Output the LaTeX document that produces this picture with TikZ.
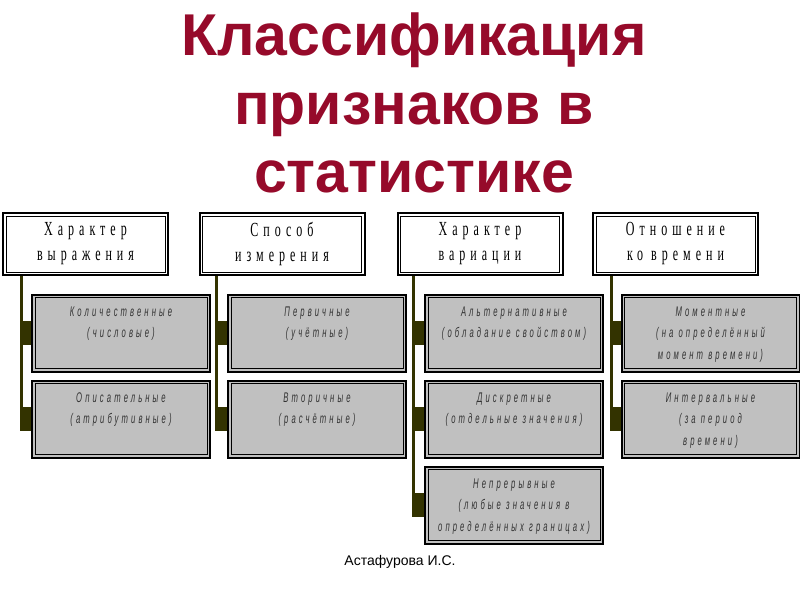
\documentclass[tikz,border=0pt]{standalone}
\usepackage{fontspec}
\setmainfont{Liberation Serif}
\newfontfamily\titlefont{Liberation Sans}
\newfontfamily\headfont[FakeStretch=0.6,LetterSpace=25]{Liberation Serif}
\newfontfamily\leaffont[FakeStretch=0.55,LetterSpace=22]{Liberation Sans}
\usetikzlibrary{positioning}
\definecolor{TitleRed}{RGB}{150,10,42}
\definecolor{LineOlive}{RGB}{51,51,0}
\definecolor{LeafGray}{RGB}{192,192,192}
\newcommand\leaftext[1]{\parbox[c][71pt][t]{172pt}{\centering\vspace*{9pt}#1}}

\begin{document}
\begin{tikzpicture}[x=1pt,y=-1pt,
  dbl/.style={path picture={\draw[line width=.8pt] ([shift={(3pt,3pt)}]path picture bounding box.south west) rectangle ([shift={(-3pt,-3pt)}]path picture bounding box.north east);}},
  hd/.style={draw,line width=2pt,fill=white,dbl,minimum width=165pt,minimum height=62pt,align=center,font=\headfont\fontsize{20}{25}\selectfont},
  leaf/.style={draw,line width=2pt,fill=LeafGray,dbl,inner sep=3pt,text=black!80,font=\leaffont\itshape\fontsize{14}{21.5}\selectfont},
  trunk/.style={draw=LineOlive,line width=3pt},
  stub/.style={draw=LineOlive,line width=24pt}]
\useasboundingbox (0,0) rectangle (800,600);
% title
\node[align=center,inner sep=0,text=TitleRed,font=\titlefont\bfseries\fontsize{59}{68.5}\selectfont,anchor=north] (ttl) at (414,13) {Классификация\\признаков в\\статистике};
% headers
\node[hd] (h1) at (85.5,244) {Характер\\выражения};
\node[hd] (h2) at (282,244) {Способ\\измерения};
\node[hd] (h3) at (480,244) {Характер\\вариации};
\node[hd] (h4) at (675.5,244) {Отношение\\ко времени};
% leaves
\node[leaf] (c11) at (121,333) {\leaftext{Количественные\\(числовые)}};
\node[leaf,below=7pt of c11] (c12) {\leaftext{Описательные\\(атрибутивные)}};
\node[leaf] (c21) at (317,333) {\leaftext{Первичные\\(учётные)}};
\node[leaf,below=7pt of c21] (c22) {\leaftext{Вторичные\\(расчётные)}};
\node[leaf] (c31) at (514,333) {\leaftext{Альтернативные\\(обладание свойством)}};
\node[leaf,below=7pt of c31] (c32) {\leaftext{Дискретные\\(отдельные значения)}};
\node[leaf,below=7pt of c32] (c33) {\leaftext{Непрерывные\\(любые значения в\\определённых границах)}};
\node[leaf] (c41) at (710.5,333) {\leaftext{Моментные\\(на определённый\\момент времени)}};
\node[leaf,below=7pt of c41] (c42) {\leaftext{Интервальные\\(за период\\времени)}};
% connectors
\coordinate (t1) at ([xshift=19pt]h1.south west);
\coordinate (t2) at ([xshift=18pt]h2.south west);
\coordinate (t3) at ([xshift=17pt]h3.south west);
\coordinate (t4) at ([xshift=19pt]h4.south west);
\draw[trunk] (t1) -- ([yshift=-12pt]t1 |- c12.west);
\draw[trunk] (t2) -- ([yshift=-12pt]t2 |- c22.west);
\draw[trunk] (t3) -- ([yshift=-12pt]t3 |- c33.west);
\draw[trunk] (t4) -- ([yshift=-12pt]t4 |- c42.west);
\draw[stub] (t1 |- c11.west) -- (c11.west);
\draw[stub] (t1 |- c12.west) -- (c12.west);
\draw[stub] (t2 |- c21.west) -- (c21.west);
\draw[stub] (t2 |- c22.west) -- (c22.west);
\draw[stub] (t3 |- c31.west) -- (c31.west);
\draw[stub] (t3 |- c32.west) -- (c32.west);
\draw[stub] (t3 |- c33.west) -- (c33.west);
\draw[stub] (t4 |- c41.west) -- (c41.west);
\draw[stub] (t4 |- c42.west) -- (c42.west);
% author
\node[font=\titlefont\fontsize{14}{16}\selectfont] (auth) at (400,562) {Астафурова И.С.};
\end{tikzpicture}
\end{document}
